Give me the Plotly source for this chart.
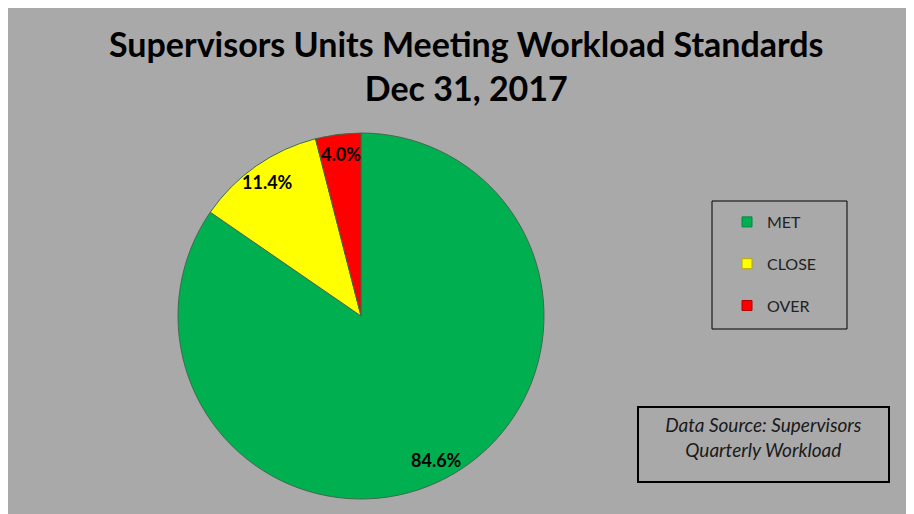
import math
import plotly.graph_objects as go

# data
labels = ["MET", "CLOSE", "OVER"]
shares = [84.6, 11.4, 4.0]
colors = ["#00b050", "#ffff00", "#ff0000"]
edge_colors = ["#00863d", "#b8a800", "#b00000"]

title_lines = ["Supervisors Units Meeting Workload Standards", "Dec 31, 2017"]
source_note = ["Data Source: Supervisors", "Quarterly Workload"]

W, H = 914, 514
BG = "#a9a9a9"
FONT = "Lato"
# the page has an 8px body margin, so shift everything back by it
DX, DY = 8, 7

cx, cy, r = 361 - DX, 315 - DY, 183
pie_domain = dict(x=[(cx - r) / W, (cx + r) / W],
                  y=[(H - cy - r) / H, (H - cy + r) / H])

fig = go.Figure()

fig.add_trace(
    go.Pie(
        labels=labels,
        values=shares,
        sort=False,
        direction="clockwise",
        rotation=0,
        marker=dict(colors=colors, line=dict(color="#3f6a4c", width=1)),
        textinfo="none",
        domain=pie_domain,
        showlegend=False,
        hoverinfo="label+percent",
    )
)

# data labels near the rim (Excel "best fit" look), placed at each slice's mid angle
total = sum(shares)
cum = 0.0
for v in shares:
    mid = 2 * math.pi * (cum + v / 2) / total
    cum += v
    rho = 0.89 * r
    px = cx + rho * math.sin(mid)
    py = cy - rho * math.cos(mid)
    fig.add_annotation(
        text=f"{v:.1f}%",
        xref="paper", yref="paper",
        x=px / W, y=1 - py / H,
        xanchor="center", yanchor="middle",
        showarrow=False,
        font=dict(family=FONT, size=18, color="black", weight="bold"),
    )

for name, col, edge in zip(labels, colors, edge_colors):
    fig.add_trace(
        go.Scatter(
            x=[None], y=[None],
            mode="markers",
            name=name,
            legendgroup=name,
            marker=dict(symbol="square", size=10, color=col,
                        line=dict(color=edge, width=1)),
        )
    )

fig.add_annotation(
    text="<br>".join(title_lines),
    xref="paper", yref="paper",
    x=(466 - DX) / W, y=1 - (20 - DY) / H,
    xanchor="center", yanchor="top",
    showarrow=False,
    font=dict(family=FONT, size=34, color="black", weight="bold"),
    align="center",
)

fig.add_annotation(
    text="<br>".join(source_note),
    xref="paper", yref="paper",
    x=(763 - DX) / W, y=(H - 443 + DY) / H,
    xanchor="center", yanchor="middle",
    showarrow=False,
    font=dict(family=FONT, size=19, color="#1a1a1a", style="italic"),
    width=239, height=63, valign="top",
    bordercolor="black", borderwidth=2, borderpad=5,
    align="center",
)

# legend frame drawn separately so it can be wider than the entries
fig.add_shape(
    type="rect", xref="paper", yref="paper",
    x0=(712 - DX) / W, x1=(847 - DX) / W,
    y0=1 - (328 - DY) / H, y1=1 - (200 - DY) / H,
    line=dict(color="black", width=1),
    fillcolor="rgba(0,0,0,0)",
)

fig.update_layout(
    width=W, height=H,
    margin=dict(l=0, r=0, t=0, b=0),
    paper_bgcolor=BG,
    plot_bgcolor=BG,
    xaxis=dict(visible=False),
    yaxis=dict(visible=False),
    legend=dict(
        x=(727 - DX) / W, y=1 - (204 - DY) / H,
        xanchor="left", yanchor="top",
        bgcolor="rgba(0,0,0,0)",
        borderwidth=0,
        font=dict(family=FONT, size=16, color="#222"),
        tracegroupgap=18,
    ),
)

fig.write_html("out.html")
